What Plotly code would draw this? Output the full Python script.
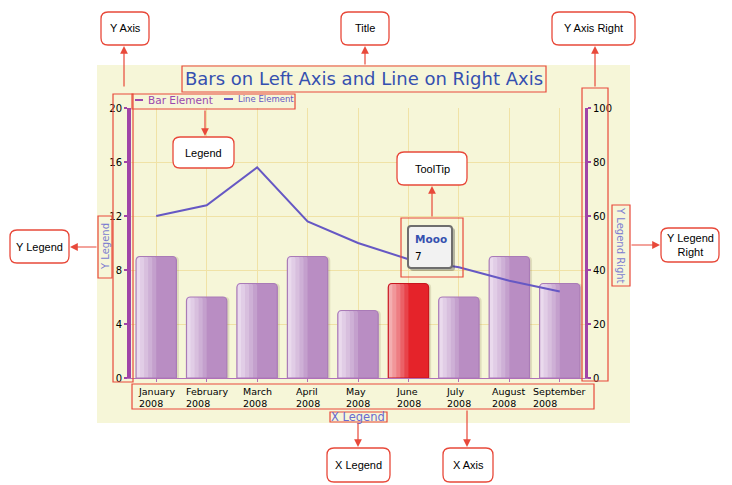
import plotly.graph_objects as go

# ---- data ----
months = ["Jan", "Feb", "Mar", "Apr", "May", "Jun", "Jul", "Aug", "Sep"]
tick_labels = ["January<br>2008", "February<br>2008", "March<br>2008", "April<br>2008",
               "May<br>2008", "June<br>2008", "July<br>2008", "August<br>2008", "September<br>2008"]
bar_values = [9, 6, 7, 9, 5, 7, 6, 9, 7]
line_values = [60, 64, 78, 58, 50, 44, 41, 36, 32]
selected = 5          # June bar is highlighted (tooltip)
tooltip_name = "Mooo"

# ---- pixel helpers (plot area) ----
W, H = 732, 485
PL, PR, PT, PB = 131, 585, 108, 378


def fx(px):
    return (px - PL) / (PR - PL)


def fy(py):
    return (PB - py) / (PB - PT)


RED = "#e8493a"
PURPLE = "#a044a8"
BLUE_T = "#3550b0"

fig = go.Figure()

# bar shadow
fig.add_trace(go.Bar(
    x=months, y=bar_values, offset=-0.35, width=0.8,
    marker=dict(color="rgba(120,110,60,0.18)", line=dict(width=0), cornerradius=4),
    hoverinfo="skip",
))
# main bar body
fig.add_trace(go.Bar(
    x=months, y=bar_values, offset=-0.4, width=0.8,
    marker=dict(color=["#e5232a" if i == selected else "#b98dc3" for i in range(len(months))],
                line=dict(width=0), cornerradius=4),
    hoverinfo="skip",
))
# left-half gradient strips
purple_steps = ["#c4a0cd", "#ceb0d6", "#d8bfde", "#e1cde6", "#eadaed"]
red_steps = ["#e8434a", "#eb6167", "#ee7d82", "#f1979a", "#f4aeb0"]
for k in range(5):
    fig.add_trace(go.Bar(
        x=months, y=bar_values, offset=-0.4, width=0.4 * (5 - k) / 5,
        marker=dict(color=[red_steps[k] if i == selected else purple_steps[k] for i in range(len(months))],
                    line=dict(width=0), cornerradius=3),
        hoverinfo="skip",
    ))
# outline
fig.add_trace(go.Bar(
    x=months, y=bar_values, offset=-0.4, width=0.8,
    marker=dict(color="rgba(0,0,0,0)",
                line=dict(width=1.2, color=["#c8161e" if i == selected else "#a97bb7" for i in range(len(months))]),
                cornerradius=4),
    hoverinfo="skip",
))

# line on right axis
fig.add_trace(go.Scatter(
    x=months, y=line_values, yaxis="y2", mode="lines",
    line=dict(color="#6658c4", width=2),
))

shapes = []
annotations = []

# yellow panel
shapes.append(dict(type="rect", xref="paper", yref="paper", layer="below",
                   x0=fx(97), x1=fx(630), y0=fy(423), y1=fy(65),
                   fillcolor="#f6f6d8", line=dict(width=0)))


def rect(x0, y0, x1, y1, color=RED, width=1.2, layer="above"):
    shapes.append(dict(type="rect", xref="paper", yref="paper", layer=layer,
                       x0=fx(x0), x1=fx(x1), y0=fy(y1), y1=fy(y0),
                       line=dict(color=color, width=width)))


def rrect(x0, y0, x1, y1, r=7, fill="white", line=RED, width=1.3):
    pts = (
        f"M {fx(x0 + r)},{fy(y0)} L {fx(x1 - r)},{fy(y0)} Q {fx(x1)},{fy(y0)} {fx(x1)},{fy(y0 + r)} "
        f"L {fx(x1)},{fy(y1 - r)} Q {fx(x1)},{fy(y1)} {fx(x1 - r)},{fy(y1)} "
        f"L {fx(x0 + r)},{fy(y1)} Q {fx(x0)},{fy(y1)} {fx(x0)},{fy(y1 - r)} "
        f"L {fx(x0)},{fy(y0 + r)} Q {fx(x0)},{fy(y0)} {fx(x0 + r)},{fy(y0)} Z"
    )
    shapes.append(dict(type="path", xref="paper", yref="paper", path=pts, layer="above",
                       fillcolor=fill, line=dict(color=line, width=width)))


def text(x, y, s, size=11, color="black", family="Liberation Sans", xanchor="center", **kw):
    annotations.append(dict(xref="paper", yref="paper", x=fx(x), y=fy(y), text=s,
                            xanchor=xanchor, yanchor="middle",
                            showarrow=False, font=dict(size=size, color=color, family=family), **kw))


def arrow(x_tail, y_tail, x_head, y_head):
    annotations.append(dict(xref="paper", yref="paper", x=fx(x_head), y=fy(y_head), text="",
                            showarrow=True, ax=x_tail - x_head, ay=y_tail - y_head,
                            arrowhead=2, arrowsize=1.3, arrowwidth=1.2, arrowcolor=RED))


# tooltip box
rrect(410, 228, 455, 271, r=3, fill="rgba(60,60,60,0.35)", line="rgba(0,0,0,0)", width=0)
rrect(408, 226, 452, 268, r=3, fill="#f2f2f2", line="#6e6e6e", width=2)
text(413, 239, f"<b>{tooltip_name}</b>", size=10.5, color=BLUE_T, family="DejaVu Sans", xanchor="left")
text(413, 256, str(bar_values[selected]), size=10.5, color="black", family="DejaVu Sans", xanchor="left")

# legend
shapes.append(dict(type="line", xref="paper", yref="paper", x0=fx(135), x1=fx(143), y0=fy(100), y1=fy(100),
                   line=dict(color="#9a48ae", width=2)))
text(146, 100, "Bar Element", size=10.5, color="#9a48ae", family="DejaVu Sans", xanchor="left")
shapes.append(dict(type="line", xref="paper", yref="paper", x0=fx(224), x1=fx(233), y0=fy(99), y1=fy(99),
                   line=dict(color="#6658c4", width=2)))
text(236, 99, "Line Element", size=8.5, color="#6658c4", family="DejaVu Sans", xanchor="left")

# axis titles
text(105, 247, "Y Legend", size=10, color="#7c7cd0", family="DejaVu Sans", textangle=-90)
text(621, 245, "Y Legend Right", size=10, color="#7c7cd0", family="DejaVu Sans", textangle=90)
text(358, 417, "X Legend", size=11.5, color="#6a6ad0", family="DejaVu Sans")

# x tick labels (block centred, lines left aligned)
for m, lab in zip(months, tick_labels):
    annotations.append(dict(xref="x", yref="paper", x=m, y=fy(384), text=lab, showarrow=False,
                            xanchor="center", yanchor="top", align="left",
                            font=dict(size=9.5, color="black", family="DejaVu Sans")))

# red outline boxes around chart parts
rect(182, 66, 546, 92)      # title
rect(132, 94, 295, 109)     # legend
rect(113, 94, 133, 382)     # y axis
rect(582, 88, 608, 381)     # y axis right
rect(98, 216, 112, 278)     # y legend
rect(612, 205, 630, 286)    # y legend right
rect(132, 384, 594, 409)    # x axis
rect(330, 412, 387, 422)    # x legend
rect(401, 218, 463, 277)    # tooltip

# callouts
callouts = [
    (101, 12, 149, 45, "Y Axis"),
    (341, 12, 389, 45, "Title"),
    (552, 12, 635, 45, "Y Axis Right"),
    (173, 137, 234, 168, "Legend"),
    (397, 152, 467, 185, "ToolTip"),
    (10, 230, 69, 263, "Y Legend"),
    (661, 228, 719, 262, "Y Legend<br>Right"),
    (327, 448, 390, 482, "X Legend"),
    (443, 448, 493, 482, "X Axis"),
]
for x0, y0, x1, y1, s in callouts:
    rrect(x0, y0, x1, y1)
    text((x0 + x1) / 2, (y0 + y1) / 2, s, size=11)

arrow(124, 88, 124, 46)
arrow(365, 66, 365, 46)
arrow(595, 88, 595, 46)
arrow(205, 109, 205, 136)
arrow(432, 218, 432, 186)
arrow(98, 247, 70, 247)
arrow(630, 245, 660, 245)
arrow(358, 422, 358, 447)
arrow(467, 409, 467, 447)

fig.update_layout(
    width=W, height=H,
    margin=dict(l=PL, r=W - PR, t=PT, b=H - PB),
    paper_bgcolor="white",
    plot_bgcolor="rgba(0,0,0,0)",
    barmode="overlay",
    showlegend=False,
    title=dict(text="Bars on Left Axis and Line on Right Axis", x=364 / W, y=1 - 79 / H,
               xanchor="center", yanchor="middle",
               font=dict(size=18, color=BLUE_T, family="DejaVu Sans")),
    xaxis=dict(type="category", range=[-0.5, 8.5], showgrid=True, gridcolor="#f0e2a6", gridwidth=1,
               showline=True, linecolor="#b070b8", linewidth=1, ticks="outside", ticklen=3,
               tickcolor="#b070b8", showticklabels=False, zeroline=False),
    yaxis=dict(range=[0, 20], tickvals=[0, 4, 8, 12, 16, 20], showgrid=True, gridcolor="#f0e2a6",
               showline=True, linecolor=PURPLE, linewidth=4, ticks="outside", ticklen=3, tickwidth=2,
               tickcolor=PURPLE, zeroline=False, tickfont=dict(size=10, color="black", family="DejaVu Sans")),
    yaxis2=dict(range=[0, 100], tickvals=[0, 20, 40, 60, 80, 100], overlaying="y", side="right",
                showgrid=False, showline=True, linecolor=PURPLE, linewidth=3, ticks="outside", ticklen=3,
                tickwidth=2, tickcolor=PURPLE, zeroline=False,
                tickfont=dict(size=10, color="black", family="DejaVu Sans")),
    shapes=shapes,
    annotations=annotations,
)

# page body has a default 8px margin; drop it so the figure sits at the window corner
fig.write_html("out.html", config={"displayModeBar": False},
               post_script="document.body.style.margin='0';")
